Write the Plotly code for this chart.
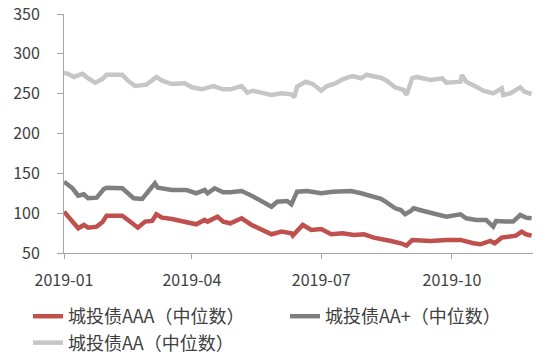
import plotly.graph_objects as go

dates_aaa = ["2019-01-01","2019-01-04","2019-01-08","2019-01-11","2019-01-15","2019-01-18","2019-01-24","2019-01-28","2019-01-31","2019-02-11","2019-02-15","2019-02-20","2019-02-22","2019-02-27","2019-03-04","2019-03-07","2019-03-11","2019-03-18","2019-03-28","2019-04-04","2019-04-10","2019-04-12","2019-04-19","2019-04-23","2019-04-28","2019-05-06","2019-05-13","2019-05-20","2019-05-27","2019-06-03","2019-06-10","2019-06-11","2019-06-18","2019-06-24","2019-07-01","2019-07-08","2019-07-16","2019-07-24","2019-07-31","2019-08-07","2019-08-14","2019-08-19","2019-08-26","2019-08-30","2019-09-03","2019-09-16","2019-09-27","2019-10-07","2019-10-16","2019-10-21","2019-10-28","2019-10-31","2019-11-05","2019-11-11","2019-11-15","2019-11-19","2019-11-22","2019-11-26"]
aaa = [101.9,95.6,85.2,81.0,85.2,81.8,83.1,88.6,96.9,96.9,91.5,85.2,81.8,89.4,90.2,98.6,94.4,92.7,89.4,86.0,91.5,89.4,95.6,89.4,87.3,93.6,85.2,78.9,73.5,76.8,74.8,71.8,85.2,78.9,80.2,73.5,74.8,72.6,73.5,69.3,67.6,65.1,62.2,59.2,66.4,65.1,66.4,66.4,62.2,60.9,65.1,62.2,69.3,70.5,71.8,76.8,73.5,71.8]

dates_aap = ["2019-01-01","2019-01-07","2019-01-11","2019-01-15","2019-01-18","2019-01-24","2019-01-29","2019-01-31","2019-02-11","2019-02-15","2019-02-19","2019-02-25","2019-02-28","2019-03-06","2019-03-08","2019-03-18","2019-03-28","2019-04-04","2019-04-10","2019-04-12","2019-04-17","2019-04-23","2019-04-28","2019-05-06","2019-05-13","2019-05-20","2019-05-27","2019-05-31","2019-06-07","2019-06-10","2019-06-14","2019-06-21","2019-07-01","2019-07-09","2019-07-22","2019-07-29","2019-08-05","2019-08-12","2019-08-16","2019-08-22","2019-08-26","2019-08-29","2019-09-02","2019-09-04","2019-09-11","2019-09-18","2019-09-27","2019-10-07","2019-10-11","2019-10-18","2019-10-25","2019-10-30","2019-11-01","2019-11-08","2019-11-13","2019-11-18","2019-11-22","2019-11-26"]
aap = [139.5,131.2,122.0,123.7,118.7,119.5,130.3,132.0,131.2,125.0,118.7,117.8,125.0,137.5,132.0,129.1,129.1,125.0,129.1,125.0,131.2,126.2,126.2,127.8,122.0,114.4,108.1,114.4,115.3,111.1,127.0,127.8,125.0,127.0,127.8,125.0,122.0,118.0,113.6,106.1,104.0,98.6,102.7,106.1,102.7,99.8,95.6,98.6,93.6,91.5,91.5,83.1,90.2,89.4,89.4,97.7,94.4,93.6]

dates_aa = ["2019-01-01","2019-01-04","2019-01-08","2019-01-14","2019-01-17","2019-01-23","2019-01-28","2019-01-31","2019-02-11","2019-02-15","2019-02-20","2019-02-28","2019-03-07","2019-03-11","2019-03-18","2019-03-27","2019-04-01","2019-04-08","2019-04-16","2019-04-23","2019-04-28","2019-05-06","2019-05-10","2019-05-14","2019-05-27","2019-06-03","2019-06-10","2019-06-12","2019-06-14","2019-06-20","2019-06-25","2019-07-01","2019-07-05","2019-07-11","2019-07-16","2019-07-23","2019-07-29","2019-08-02","2019-08-09","2019-08-12","2019-08-16","2019-08-22","2019-08-28","2019-08-30","2019-09-03","2019-09-06","2019-09-16","2019-09-24","2019-09-27","2019-10-07","2019-10-08","2019-10-11","2019-10-18","2019-10-23","2019-10-30","2019-11-05","2019-11-06","2019-11-11","2019-11-18","2019-11-21","2019-11-26"]
aa = [276.3,274.7,271.0,275.0,270.5,263.8,268.4,273.8,273.8,266.3,259.6,261.3,271.0,266.3,262.1,263.0,258.0,255.5,259.6,255.5,255.5,259.6,251.2,253.7,248.3,250.4,249.2,245.5,258.8,265.0,262.1,253.7,259.6,263.0,268.0,272.2,269.3,273.8,271.0,270.0,266.3,258.0,254.6,248.5,269.3,271.0,267.2,269.3,263.8,265.0,273.4,265.0,258.8,253.7,250.4,256.7,248.3,250.4,258.0,252.4,249.6]

names = ["城投债AAA（中位数）", "城投债AA+（中位数）", "城投债AA（中位数）"]
colors = ["#C0504D", "#7F7F7F", "#C6C6C6"]

font_family = "Noto Sans CJK SC"
fig = go.Figure()
for d, v, n, c in zip([dates_aaa, dates_aap, dates_aa], [aaa, aap, aa], names, colors):
    fig.add_trace(go.Scatter(x=d, y=v, name=n, mode="lines",
                             line=dict(color=c, width=4.5)))

fig.update_layout(
    width=552, height=354,
    margin=dict(l=64, r=19, t=14, b=101, autoexpand=False),
    paper_bgcolor="white", plot_bgcolor="white",
    font=dict(family=font_family, size=16, color="#404040"),
    showlegend=True,
    legend=dict(orientation="h", xref="paper", yref="paper",
                x=-0.0768, y=-0.1883, xanchor="left", yanchor="top",
                entrywidth=212, entrywidthmode="pixels",
                font=dict(size=18, color="#404040"),
                tracegroupgap=0, itemwidth=30, bgcolor="rgba(0,0,0,0)"),
    xaxis=dict(range=["2019-01-01", "2019-11-27"], type="date",
               tick0="2019-01-01", dtick="M3", tickformat="%Y-%m",
               showgrid=False, zeroline=False, showline=True, linecolor="#A6A6A6",
               linewidth=1, ticks="outside", ticklen=5, tickcolor="#A6A6A6",
               ticklabelstandoff=8),
    yaxis=dict(range=[50, 350], tickvals=[50, 100, 150, 200, 250, 300, 350],
               showgrid=False, zeroline=False, showline=True, linecolor="#A6A6A6",
               linewidth=1, ticks="outside", ticklen=6, tickcolor="#A6A6A6",
               ticklabelstandoff=14),
)

fig.write_html("out.html")
